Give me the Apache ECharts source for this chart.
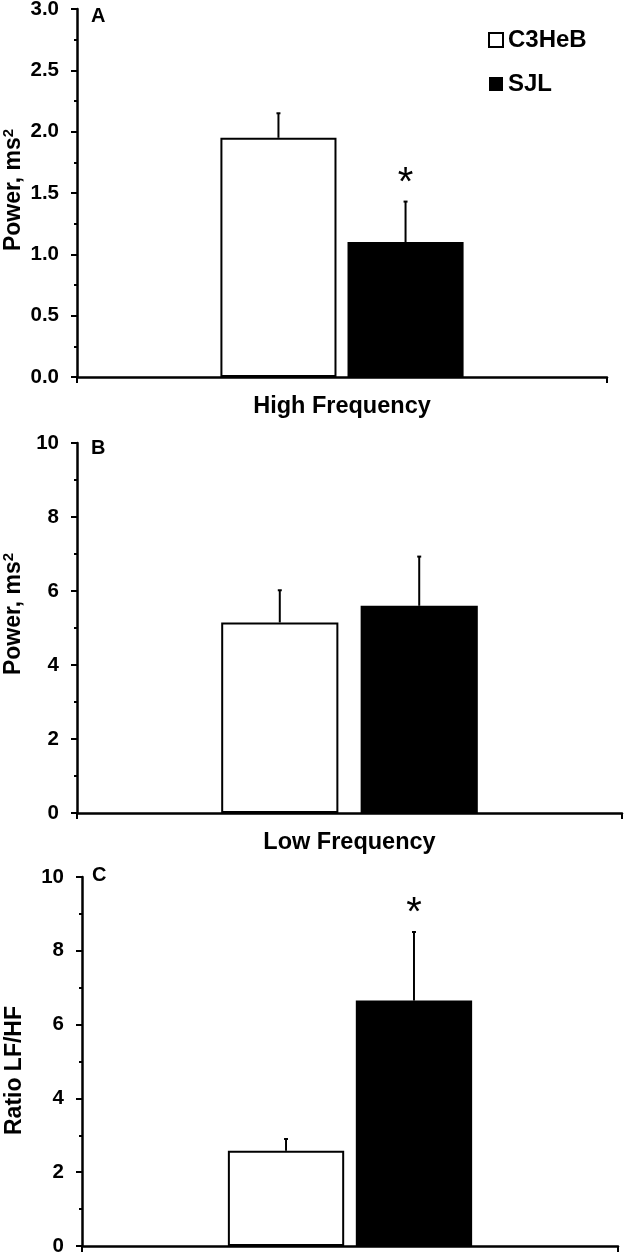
<!DOCTYPE html>
<html>
<head>
<meta charset="utf-8">
<script src="https://cdn.jsdelivr.net/npm/echarts@6/dist/echarts.min.js"></script>
<style>
html,body{margin:0;padding:0;background:#fff;}
#chart{width:625px;height:1255px;}
</style>
</head>
<body>
<div id="chart"></div>
<script>
// ---- data ----
const seriesNames = ['C3HeB', 'SJL'];
const categoriesA = ['High Frequency'];
const categoriesB = ['Low Frequency'];
const categoriesC = ['LF/HF'];
const meanA = [1.95, 1.10];
const semA  = [0.20, 0.33];
const starA = [0, 1];
const meanB = [5.15, 5.60];
const semB  = [0.87, 1.33];
const starB = [0, 0];
const meanC = [2.58, 6.65];
const semC  = [0.32, 1.86];
const starC = [0, 1];
const yAxisA = {min: 0, max: 3, interval: 0.5};
const yAxisB = {min: 0, max: 10, interval: 2};
const yAxisC = {min: 0, max: 10, interval: 2};
const panelLetters = ['A', 'B', 'C'];
const yNames = ['Power, ms{sup|2}', 'Power, ms{sup|2}', 'Ratio LF/HF'];

// ---- layout / style ----
const FONT = '"Liberation Sans", Arial, sans-serif';
const panels = [
  {cats: categoriesA, mean: meanA, sem: semA, star: starA, y: yAxisA, dec: 1,
   grid: {left: 77, top: 9, width: 530, height: 368}, barW: 0.219, gap: 0.095, showCat: true,
   letterPos: {left: 91, top: 6}, nameGap: 50, namePad: [0, 0, 0, 6]},
  {cats: categoriesB, mean: meanB, sem: semB, star: starB, y: yAxisB, dec: 0,
   grid: {left: 77, top: 443, width: 545, height: 370}, barW: 0.215, gap: 0.19, showCat: true,
   letterPos: {left: 91, top: 438}, nameGap: 50, namePad: [0, 0, 0, 28]},
  {cats: categoriesC, mean: meanC, sem: semC, star: starC, y: yAxisC, dec: 0,
   grid: {left: 82, top: 877, width: 536, height: 369}, barW: 0.217, gap: 0.10, showCat: false,
   letterPos: {left: 92, top: 865}, nameGap: 56, namePad: [0, 18, 0, 0]}
];

const chart = echarts.init(document.getElementById('chart'), null, {renderer: 'canvas'});

const grids = [], xAxes = [], yAxes = [], series = [], titles = [];
panels.forEach((p, gi) => {
  grids.push(Object.assign({containLabel: false, outerBoundsMode: 'none'}, p.grid));
  titles.push({text: panelLetters[gi], left: p.letterPos.left, top: p.letterPos.top, padding: 0,
    textStyle: {fontFamily: FONT, fontWeight: 'bold', fontSize: 20, color: '#000'}});
  xAxes.push({
    type: 'category', gridIndex: gi, data: p.cats,
    axisLine: {lineStyle: {color: '#000', width: 2.5}},
    axisTick: {show: true, length: 6, lineStyle: {color: '#000', width: 2}},
    axisLabel: {show: p.showCat, margin: 18, color: '#000', fontFamily: FONT, fontWeight: 'bold', fontSize: 23.5},
    splitLine: {show: false}
  });
  yAxes.push({
    type: 'value', gridIndex: gi, min: p.y.min, max: p.y.max, interval: p.y.interval,
    name: yNames[gi], nameLocation: 'middle', nameRotate: 90, nameGap: p.nameGap, nameMoveOverlap: false,
    nameTextStyle: {color: '#000', fontFamily: FONT, fontWeight: 'bold', fontSize: 23, padding: p.namePad,
      rich: {sup: {fontFamily: FONT, fontWeight: 'bold', fontSize: 15, verticalAlign: 'top', padding: [0, 0, 11, 0]}}},
    axisLine: {show: true, lineStyle: {color: '#000', width: 2.5}},
    axisTick: {show: true, length: 6, lineStyle: {color: '#000', width: 2}},
    minorTick: {show: true, splitNumber: 2, length: 3, lineStyle: {color: '#000', width: 2}},
    splitLine: {show: false},
    axisLabel: {margin: 18, color: '#000', fontFamily: FONT, fontWeight: 'bold', fontSize: 20.5,
      formatter: v => v.toFixed(p.dec)}
  });
  seriesNames.forEach((nm, si) => {
    series.push({
      type: 'bar', name: nm, xAxisIndex: gi, yAxisIndex: gi,
      data: [p.mean[si]],
      barWidth: (p.barW * 100) + '%', barGap: (p.gap * 100) + '%',
      itemStyle: si === 0 ? {color: '#fff', borderColor: '#000', borderWidth: 2}
                          : {color: '#000', borderColor: '#000', borderWidth: 0},
      emphasis: {disabled: true}, animation: false
    });
  });
  const errData = p.mean.map((m, i) => [0, m, m + p.sem[i], i, p.star[i]]);
  series.push({
    type: 'custom', name: 'err' + gi, xAxisIndex: gi, yAxisIndex: gi, z: 10,
    data: errData, encode: {x: 0, y: [1, 2]}, animation: false, silent: true,
    renderItem: (params, api) => {
      const cat = api.value(0), m = api.value(1), t = api.value(2), idx = api.value(3), st = api.value(4);
      const base = api.coord([cat, m]);
      const top = api.coord([cat, t]);
      const band = api.size([1, 0])[0];
      const w = band * p.barW, g = w * p.gap, total = 2 * w + g;
      const cx = base[0] - total / 2 + w / 2 + idx * (w + g);
      const children = [
        {type: 'line', shape: {x1: cx, y1: base[1], x2: cx, y2: top[1]}, style: {stroke: '#000', lineWidth: 2}},
        {type: 'line', shape: {x1: cx - 2, y1: top[1], x2: cx + 2, y2: top[1]}, style: {stroke: '#000', lineWidth: 2}}
      ];
      if (st) {
        children.push({type: 'text', x: cx, y: top[1] - 18,
          style: {text: '*', fontFamily: FONT, fontSize: 40, fill: '#000', align: 'center', verticalAlign: 'middle'}});
      }
      return {type: 'group', children};
    }
  });
});

chart.setOption({
  backgroundColor: '#fff',
  animation: false,
  title: titles,
  grid: grids,
  xAxis: xAxes,
  yAxis: yAxes,
  legend: {
    data: seriesNames, orient: 'vertical', left: 488, top: 28, padding: 0, icon: 'rect',
    itemWidth: 14, itemHeight: 14, itemGap: 20, selectedMode: false,
    textStyle: {color: '#000', fontFamily: FONT, fontWeight: 'bold', fontSize: 24, lineHeight: 24}
  },
  series: series
});
</script>
</body>
</html>
